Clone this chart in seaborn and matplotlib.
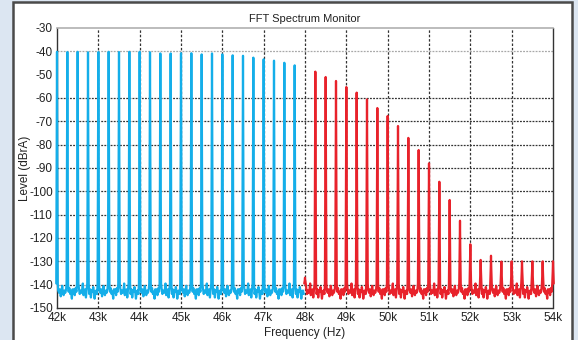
import numpy as np
import pandas as pd
import seaborn as sns
import matplotlib.pyplot as plt
from matplotlib.patches import Rectangle

# tone frequencies (kHz) and peak levels (dBrA)
blue_khz = [42.0, 42.25, 42.5, 42.75, 43.0, 43.25, 43.5, 43.75, 44.0, 44.25, 44.5, 44.75,
            45.0, 45.25, 45.5, 45.75, 46.0, 46.25, 46.5, 46.75, 47.0, 47.25, 47.5, 47.75]
blue_peak = [-40.2, -40.3, -40.2, -40.4, -40.3, -40.2, -40.3, -40.2, -40.2, -40.4, -40.9, -40.9,
             -40.8, -40.8, -41.3, -40.9, -41.3, -41.7, -41.9, -42.7, -43.4, -44.0, -44.9, -46.0]
red_khz = [48.0, 48.25, 48.5, 48.75, 49.0, 49.25, 49.5, 49.75, 50.0, 50.25, 50.5, 50.75, 51.0,
           51.25, 51.5, 51.75, 52.0, 52.25, 52.5, 52.75, 53.0, 53.25, 53.5, 53.75, 54.0]
red_peak = [-137.0, -48.7, -51.0, -52.7, -55.3, -57.7, -60.6, -64.3, -67.7, -72.0, -77.1, -82.3, -88.0,
            -95.9, -103.7, -112.6, -122.7, -129.4, -127.6, -130.1, -130.0, -130.0, -130.0, -130.0, -130.0]

# noise floor between tones (offset in Hz after a tone, level in dB)
floor_hz = [30, 50, 70, 90, 110, 125, 140, 160, 180, 200, 220]
floor_a = [-142.5, -143.5, -142.0, -145.0, -143.0, -140.5, -143.0, -144.5, -142.5, -143.5, -142.0]
floor_b = [-143.0, -141.5, -144.0, -143.0, -146.0, -142.0, -143.5, -142.0, -144.5, -141.5, -143.0]
floor_c = [-141.5, -144.0, -142.5, -143.5, -142.0, -139.5, -144.5, -143.0, -142.0, -145.5, -141.5]
floor_d = [-144.0, -142.0, -145.5, -142.5, -143.0, -141.0, -142.5, -146.0, -143.0, -142.5, -144.0]
floors = [floor_a, floor_b, floor_c, floor_d]

y_ticks = [-30, -40, -50, -60, -70, -80, -90, -100, -110, -120, -130, -140, -150]
x_ticks = [42, 43, 44, 45, 46, 47, 48, 49, 50, 51, 52, 53, 54]


def trace(tones, peaks, band, k0, last=True):
    xs, ys = [], []
    for i, (f, p) in enumerate(zip(tones, peaks)):
        mid = p + 0.45 * (-140 - p)
        xs += [f - 0.018, f - 0.007, f, f + 0.007, f + 0.018]
        ys += [-139.5, mid, p, mid, -139.5]
        if i < len(tones) - 1 or not last:
            fl = floors[(i + k0) % 4]
            xs += [f + h / 1000 for h in floor_hz]
            ys += fl
    return pd.DataFrame({'freq': xs, 'level': ys, 'band': band})


df = pd.concat([trace(blue_khz, blue_peak, 'blue', 0, last=False),
                trace(red_khz, red_peak, 'red', 2)])

sns.set_style('white')
plt.rcParams['font.family'] = ['Liberation Sans', 'DejaVu Sans']
plt.rcParams['axes.unicode_minus'] = False

fig = plt.figure(figsize=(5.78, 3.4), dpi=100)
fig.patch.set_facecolor('#dce6f2')
fig.add_artist(Rectangle((13 / 578, -0.05), (572 - 13) / 578, 1.05 - 2 / 340,
                         transform=fig.transFigure, facecolor='white',
                         edgecolor='#4a4a4a', lw=1.8, zorder=-1))
ax = fig.add_axes([57 / 578, 1 - 308 / 340, (553 - 57) / 578, (308 - 28) / 340])

sns.lineplot(data=df, x='freq', y='level', hue='band', palette={'blue': '#14aee9', 'red': '#e8222b'},
             sort=False, estimator=None, legend=False, lw=1.6, ax=ax, zorder=3)
for ln in ax.lines:
    ln.set_clip_on(False)

ax.set_xlim(42, 54)
ax.set_ylim(-150, -30)
ax.set_xticks(x_ticks)
ax.set_xticklabels([f'{v}k' for v in x_ticks])
ax.set_yticks(y_ticks)
ax.tick_params(length=0, pad=3, labelsize=8.5, colors='#222222')

for y in y_ticks:
    if y == -40:
        ax.axhline(y, color='#a8a8a8', ls=(0, (1.5, 1)), lw=0.9, zorder=0)
    elif y not in (-30, -50, -150):
        ax.axhline(y, color='#333333', ls=(0, (1.5, 1)), lw=0.9, zorder=0)
for x in x_ticks[1:-1]:
    ax.axvline(x, color='#333333', ls=(0, (2, 1.5)), lw=0.9, zorder=0)

for side in ['left', 'right', 'bottom']:
    ax.spines[side].set_linestyle((0, (1.5, 1)))
    ax.spines[side].set_color('#333333')
    ax.spines[side].set_linewidth(1.0)
ax.spines['top'].set_color('#b0b0b0')
ax.spines['top'].set_linewidth(1.2)

ax.set_title('FFT Spectrum Monitor', fontsize=8, pad=4, color='#222222')
ax.set_xlabel('Frequency (Hz)', fontsize=8.5, labelpad=2, color='#222222')
ax.set_ylabel('Level (dBrA)', fontsize=8.5, color='#222222')
ax.yaxis.set_label_coords(-0.052, 0.5)

fig.savefig('out.png', dpi=100)
